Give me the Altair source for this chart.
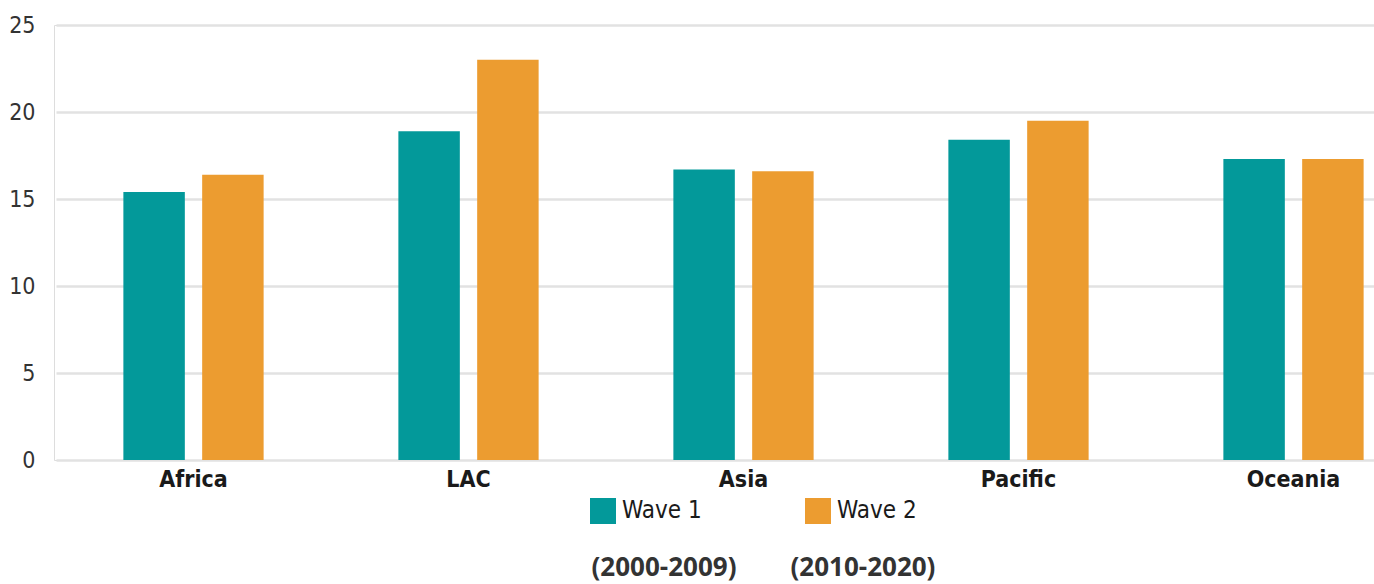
import altair as alt
import pandas as pd

regions = ["Africa", "LAC", "Asia", "Pacific", "Oceania"]
waves = ["Wave 1", "Wave 2"]
periods = ["(2000-2009)", "(2010-2020)"]
wave1 = [15.4, 18.9, 16.7, 18.4, 17.3]
wave2 = [16.4, 23.0, 16.6, 19.5, 17.3]
colors = ["#03999A", "#EC9C30"]

rows = []
for r, a, b in zip(regions, wave1, wave2):
    rows.append({"region": r, "wave": waves[0], "value": a})
    rows.append({"region": r, "wave": waves[1], "value": b})
df = pd.DataFrame(rows)

NB = "\u00a0"
period_title = (NB * 8).join(periods)

FONT = "Liberation Sans Narrow, DejaVu Sans Condensed, Arial Narrow, sans-serif"

chart = alt.Chart(df).mark_bar().encode(
    x=alt.X(
        "region:N",
        sort=regions,
        scale=alt.Scale(range=[2, 1377], paddingInner=0.49, paddingOuter=0.245),
        axis=alt.Axis(
            title=period_title,
            titleFont="Open Sans",
            titleFontWeight="bold",
            titleFontSize=26,
            titleColor="#333333",
            titleX=709,
            titleY=107,
            titleBaseline="middle",
            titleAnchor="middle",
            labelAngle=0,
            labelFont=FONT,
            labelFontWeight="bold",
            labelFontSize=23,
            labelColor="#1a1a1a",
            labelPadding=8,
            ticks=False,
            domain=False,
            grid=False,
        ),
    ),
    xOffset=alt.XOffset(
        "wave:N",
        sort=waves,
        scale=alt.Scale(paddingInner=0.22, paddingOuter=0),
    ),
    y=alt.Y(
        "value:Q",
        scale=alt.Scale(domain=[0, 25], nice=False),
        axis=alt.Axis(
            title=None,
            values=[0, 5, 10, 15, 20, 25],
            labelFont=FONT,
            labelFontSize=23,
            labelColor="#333333",
            labelPadding=19,
            ticks=False,
            domain=False,
            grid=True,
            gridColor="#E2E2E2",
            gridWidth=2.5,
        ),
    ),
    color=alt.Color(
        "wave:N",
        sort=waves,
        scale=alt.Scale(domain=waves, range=colors),
        legend=alt.Legend(
            title=None,
            orient="none",
            direction="horizontal",
            legendX=536,
            legendY=473,
            symbolType="square",
            symbolSize=676,
            symbolStrokeWidth=0,
            symbolOpacity=1,
            labelFont=FONT,
            labelFontSize=24,
            labelColor="#1a1a1a",
            labelOffset=6,
            columnPadding=103,
        ),
    ),
).properties(
    width=1320,
    height=435,
    autosize=alt.AutoSizeParams(type="none"),
    padding={"left": 54, "top": 25, "right": 0, "bottom": 124},
).configure_view(stroke=None).configure(background="white")

chart.save("out.html", embed_options={"renderer": "svg", "actions": False})
